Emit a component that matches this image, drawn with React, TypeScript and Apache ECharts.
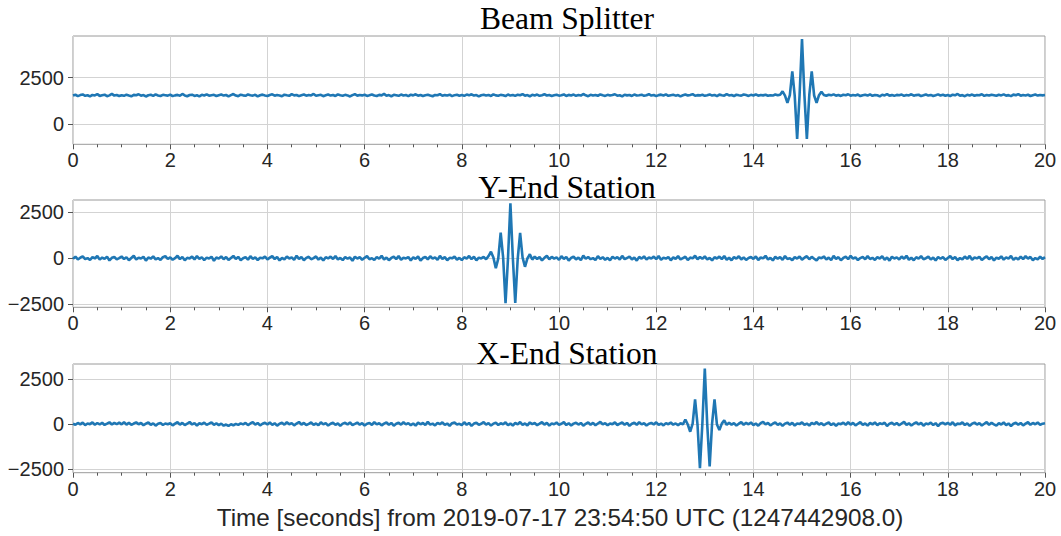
import React, { useEffect, useRef } from "react";
import * as echarts from "echarts";

// Sampling step (seconds) of the time series, starting at t = 0
const DT = 0.05;

const TITLES = ["Beam Splitter", "Y-End Station", "X-End Station"];
const X_LABEL = "Time [seconds] from 2019-07-17 23:54:50 UTC (1247442908.0)";
const X_TICKS_INTERVAL = 2;

// Beam Splitter (one row = one second)
const beamSplitter = [
  1540,1585,1512,1566,1601,1530,1558,1497,1575,1549,1620,1523,1561,1590,1508,1552,1634,1541,1570,1515,
  1562,1528,1589,1545,1503,1577,1556,1612,1535,1568,1492,1559,1583,1527,1604,1548,1519,1581,1560,1537,
  1594,1511,1552,1578,1533,1626,1549,1506,1571,1588,1524,1557,1499,1583,1546,1609,1532,1563,1581,1518,
  1559,1597,1540,1572,1501,1566,1623,1544,1511,1586,1553,1529,1602,1561,1538,1580,1495,1557,1592,1545,
  1520,1575,1610,1533,1568,1547,1504,1591,1556,1529,1617,1552,1574,1513,1563,1599,1536,1571,1548,1627,
  1530,1562,1585,1509,1553,1596,1541,1574,1520,1604,1557,1532,1580,1549,1493,1566,1615,1538,1572,1551,
  1587,1524,1559,1601,1546,1516,1579,1553,1630,1535,1566,1504,1583,1557,1528,1596,1545,1569,1512,1585,
  1552,1610,1537,1574,1519,1562,1589,1541,1505,1576,1558,1621,1531,1567,1548,1590,1510,1563,1582,1536,
  1568,1527,1595,1554,1611,1539,1571,1498,1560,1585,1543,1576,1522,1607,1550,1533,1579,1562,1516,1598,
  1541,1573,1525,1588,1556,1619,1534,1566,1503,1581,1549,1595,1528,1563,1610,1545,1572,1520,1557,1589,
  1536,1562,1604,1517,1578,1550,1593,1529,1567,1541,1625,1555,1508,1584,1547,1571,1531,1601,1559,1523,
  1580,1544,1569,1612,1533,1557,1496,1586,1552,1574,1519,1598,1546,1563,1589,1527,1561,1614,1540,1572,
  1513,1566,1591,1548,1605,1526,1562,1583,1537,1570,1499,1555,1596,1542,1575,1618,1531,1564,1551,1588,
  1527,1560,1603,1541,1577,1510,1592,1556,1534,1620,1549,1571,1515,1586,1558,1539,1598,1567,1523,1581,
  1546,1608,1533,1570,1552,1586,1529,1563,1541,1597,1555,1590,1765,1540,1150,1560,2840,1540,-780,1560,
  4570,1550,-780,1560,2840,1545,1150,1560,1750,1575,1530,1587,1552,1604,1538,1569,1521,1583,1556,1612,
  1535,1571,1548,1595,1516,1563,1589,1542,1608,1530,1574,1557,1501,1586,1549,1623,1538,1566,1527,1579,
  1560,1594,1526,1571,1548,1610,1533,1567,1585,1514,1556,1599,1540,1577,1521,1563,1606,1545,1582,1530,
  1572,1519,1588,1553,1627,1537,1564,1508,1580,1549,1596,1531,1569,1556,1612,1524,1575,1543,1590,1561,
  1529,1583,1550,1604,1538,1566,1512,1592,1557,1621,1534,1571,1548,1586,1520,1563,1599,1541,1576,1553,
  1568,
];

// Y-End Station
const yEnd = [
  -20,85,-64,31,110,-48,12,-95,67,-10,126,-72,40,-33,92,-118,25,71,-56,8,
  98,-41,57,-107,19,134,-66,33,-15,81,-128,46,-22,104,-59,14,-90,63,117,-37,
  52,-81,9,140,-45,73,-112,28,-6,95,-63,119,-29,58,-97,36,-14,88,-131,44,
  -18,107,-52,67,-88,22,131,-40,79,-101,5,62,-75,113,-26,48,-93,30,-2,96,
  -67,35,121,-44,70,-115,17,-57,99,-12,54,-84,143,-30,66,-108,24,81,-49,11,
  102,-71,38,-120,59,-9,93,-36,126,-61,20,-98,74,-23,47,-134,86,-15,61,-78,
  29,115,-50,8,-96,72,-27,138,-64,41,-103,19,87,-45,124,-82,33,-7,69,-117,
  53,-34,97,-125,15,78,-58,110,-21,46,-89,136,-42,63,-106,27,-3,91,-69,22,
  -99,58,-16,129,-47,84,-113,36,-8,76,-55,120,360,40,-540,-20,1390,60,-2440,-30,
  2990,30,-2420,-40,1380,50,-460,-10,220,-70,95,-38,62,-111,27,133,-54,81,-19,46,
  -86,112,-31,67,-124,18,94,-60,39,-102,145,-25,71,-47,8,-93,118,-36,56,-79,
  23,-114,87,-12,62,-70,131,-44,15,99,-57,34,-127,76,-21,105,-65,43,-8,90,
  -48,127,-83,25,-16,68,-109,51,-34,117,-61,13,84,-96,38,-4,142,-52,74,-28,
  106,-67,21,-118,55,-11,93,-43,129,-76,30,-105,64,-19,111,-58,47,-88,16,72,
  -35,101,-92,44,-6,137,-63,26,-116,79,-22,58,-85,121,-40,9,-100,66,-13,95,
  -71,32,114,-54,80,-27,-123,49,-1,103,-69,37,-95,128,-31,60,-110,18,87,-46,
  135,-20,54,-99,11,76,-56,119,-39,24,-87,63,-14,108,-74,41,-126,83,-9,50,
  -62,97,-28,140,-81,29,-104,57,-17,115,-49,6,91,-66,35,-121,73,-24,62,-90,
  19,124,-45,70,-108,13,-58,99,-33,132,-78,45,-5,86,-97,21,113,-53,67,-119,
  39,-26,106,-73,52,-14,128,-87,31,-60,94,-42,117,-18,75,-102,10,-57,88,-35,
  61,
];

// X-End Station
const xEnd = [
  12,-45,60,-18,75,-62,30,-8,88,-40,55,-25,70,-52,18,95,-30,64,-12,80,
  -20,102,-35,68,-48,25,90,-15,58,-70,20,84,-42,35,-88,10,62,-55,28,-10,
  45,-78,22,96,-36,60,-64,14,110,-28,52,-85,38,-12,74,-50,16,92,-44,30,
  -58,20,-95,-30,-110,-15,-72,8,-48,36,-20,62,-66,28,104,-38,55,-80,12,70,
  -26,88,-52,40,-90,18,66,-40,98,-14,50,-76,24,112,-34,60,-58,10,82,-46,
  28,-70,96,-22,54,-88,14,72,-48,36,-102,20,64,-30,90,-60,8,78,-36,44,
  -84,16,62,-52,106,-24,40,-74,22,86,-44,58,-96,12,70,-38,100,-20,48,-66,
  30,-92,76,-16,54,-58,118,-34,20,-80,64,-10,92,-50,26,-98,44,84,-28,10,
  -62,96,-40,58,-104,22,70,-46,12,108,-32,50,-86,18,76,-54,36,-12,94,-70,
  24,-88,60,-20,112,-44,32,-76,86,-8,52,-64,16,98,-36,68,-92,28,-14,80,
  -48,14,102,-60,38,-82,20,74,-30,56,-96,10,88,-42,64,-70,26,116,-24,46,
  -74,32,-18,92,-56,20,80,-38,58,-100,12,70,-46,104,-22,40,-84,16,62,-30,
  96,-50,24,-78,48,-12,86,-40,30,-65,40,-20,250,-30,-430,20,1370,-40,-2450,30,
  3080,-20,-2360,40,1370,-30,-330,20,200,-50,70,-34,52,-88,18,106,-42,64,-16,84,
  -60,28,-96,44,120,-22,58,-74,14,90,-48,36,-102,20,78,-36,62,-84,30,-6,
  94,-52,22,-86,68,-14,110,-40,46,-70,16,82,-58,34,-100,24,-12,76,-44,98,
  -32,60,-80,12,104,-46,28,-92,56,-20,84,-62,40,-8,72,-108,18,66,-38,50,
  -70,26,114,-52,38,-86,14,92,-30,58,-94,22,-16,80,-60,44,-118,30,70,-24,
  64,-42,100,-76,20,-4,88,-56,32,-98,18,76,-34,52,-82,12,108,-48,66,-20,
  -90,40,-26,84,-64,30,-110,16,72,-38,54,-80,22,96,-46,60,-14,86,-52,18,
  42,
];

const SERIES = [beamSplitter, yEnd, xEnd];
const Y_TICKS = [[0, 2500], [-2500, 0, 2500], [-2500, 0, 2500]];
const Y_MIN = [-1073, -2663, -2706];
const Y_MAX = [4737, 3168, 3333];

// layout (pixels)
const GRIDS = [
  { top: 36, height: 108.3 },
  { top: 200, height: 107.3 },
  { top: 364, height: 108.7 },
];
const LEFT = 73;
const WIDTH = 972;
const TITLE_Y = [18, 187, 353];

const LINE_COLOR = "#1f77b4";
const SANS = "'Liberation Sans', Arial, sans-serif";
const SERIF = "'Liberation Serif', 'Times New Roman', serif";

const fmt = (v: number) => (v < 0 ? "\u2212" + Math.abs(v) : String(v));

export default function App() {
  const ref = useRef<HTMLDivElement>(null);
  useEffect(() => {
    if (!ref.current) return;
    const chart = echarts.init(ref.current, undefined, { renderer: "svg" });

    const grid = GRIDS.map((g) => ({
      left: LEFT,
      top: g.top,
      width: WIDTH,
      height: g.height,
      show: true,
      borderColor: "#9a9a9a",
      borderWidth: 1,
      backgroundColor: "transparent",
      containLabel: false,
    }));

    const xAxis = GRIDS.map((_, i) => ({
      type: "value",
      gridIndex: i,
      position: "bottom",
      min: 0,
      max: 20,
      interval: X_TICKS_INTERVAL,
      axisLine: { show: false, onZero: false },
      axisTick: { show: true, length: 5, lineStyle: { color: "#555", width: 1 } },
      minorTick: { show: true, splitNumber: 4, length: 3, lineStyle: { color: "#555", width: 1 } },
      minorSplitLine: { show: false },
      splitLine: { show: true, lineStyle: { color: "#d3d3d3", width: 1 } },
      axisLabel: { fontSize: 20, lineHeight: 18, color: "#262626", fontFamily: SANS, margin: 7 },
    }));

    const yAxis = GRIDS.map((_, i) => ({
      type: "value",
      gridIndex: i,
      position: "left",
      min: Y_MIN[i],
      max: Y_MAX[i],
      axisLine: { show: false, onZero: false },
      axisTick: { show: true, length: 5, customValues: Y_TICKS[i], lineStyle: { color: "#555", width: 1 } },
      splitLine: { show: true, lineStyle: { color: "#d3d3d3", width: 1 } },
      axisLabel: {
        customValues: Y_TICKS[i],
        fontSize: 20,
        lineHeight: 18,
        color: "#262626",
        fontFamily: SANS,
        margin: 9,
        formatter: (v: number) => fmt(v),
      },
    }));

    const series = SERIES.map((vals, i) => ({
      type: "line",
      xAxisIndex: i,
      yAxisIndex: i,
      data: vals.map((v, k) => [k * DT, v]),
      showSymbol: false,
      symbol: "none",
      lineStyle: { color: LINE_COLOR, width: 2.6 },
      itemStyle: { color: LINE_COLOR },
    }));

    const graphic = [
      ...TITLES.map((t, i) => ({
        type: "text",
        x: 567,
        y: TITLE_Y[i],
        style: {
          text: t,
          fill: "#000",
          font: `31.5px ${SERIF}`,
          lineHeight: 24,
          textAlign: "center",
          textVerticalAlign: "middle",
        },
      })),
      {
        type: "text",
        x: 560,
        y: 517,
        style: {
          text: X_LABEL,
          fill: "#262626",
          font: `24.3px ${SANS}`,
          textAlign: "center",
          textVerticalAlign: "middle",
        },
      },
    ];

    chart.setOption({
      animation: false,
      backgroundColor: "#fff",
      grid,
      xAxis,
      yAxis,
      series,
      graphic,
    });
    return () => chart.dispose();
  }, []);

  return (
    <div
      ref={ref}
      style={{ position: "absolute", left: 0, top: 0, width: 1061, height: 536 }}
    />
  );
}
